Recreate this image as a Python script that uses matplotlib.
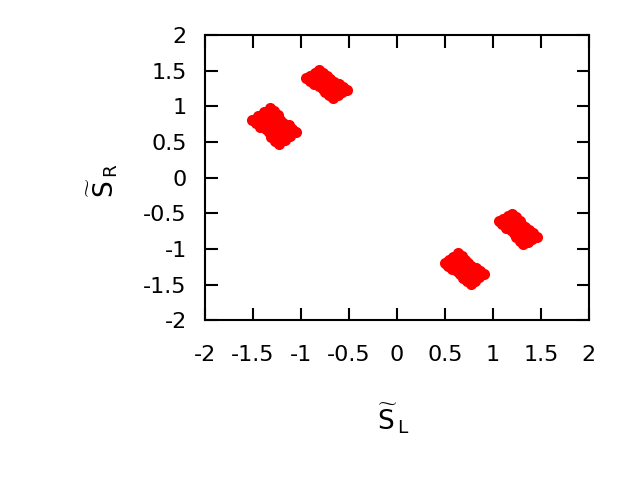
import matplotlib
matplotlib.use("Agg")
import matplotlib.pyplot as plt

plt.rcParams["font.family"] = ["DejaVu Sans"]
plt.rcParams["mathtext.fontset"] = "dejavusans"

# cluster near (-1.3, 0.75)
a_x = [-1.504, -1.442, -1.381, -1.319, -1.463, -1.402, -1.340, -1.278,
       -1.422, -1.361, -1.299, -1.238, -1.367, -1.323, -1.262, -1.218,
       -1.332, -1.288, -1.227, -1.183, -1.312, -1.251, -1.189, -1.128,
       -1.272, -1.210, -1.149, -1.087, -1.231, -1.169, -1.108, -1.046]
a_y = [0.815, 0.871, 0.927, 0.983, 0.763, 0.819, 0.875, 0.931,
       0.711, 0.767, 0.823, 0.879, 0.679, 0.719, 0.775, 0.815,
       0.635, 0.675, 0.731, 0.771, 0.571, 0.627, 0.683, 0.739,
       0.519, 0.575, 0.631, 0.687, 0.467, 0.523, 0.579, 0.635]

# cluster near (-0.75, 1.3)
b_x = [-0.947, -0.900, -0.853, -0.806, -0.904, -0.857, -0.811, -0.764,
       -0.862, -0.815, -0.768, -0.722, -0.809, -0.776, -0.729, -0.695,
       -0.773, -0.739, -0.692, -0.659, -0.747, -0.700, -0.653, -0.606,
       -0.704, -0.657, -0.611, -0.564, -0.662, -0.615, -0.568, -0.522]
b_y = [1.392, 1.431, 1.470, 1.508, 1.351, 1.390, 1.429, 1.467,
       1.310, 1.349, 1.388, 1.426, 1.283, 1.311, 1.349, 1.377,
       1.248, 1.276, 1.314, 1.342, 1.199, 1.238, 1.276, 1.315,
       1.158, 1.197, 1.235, 1.274, 1.117, 1.156, 1.194, 1.233]

# cluster near (0.7, -1.3)
c_x = [0.498, 0.543, 0.589, 0.634, 0.538, 0.584, 0.629, 0.674,
       0.579, 0.624, 0.669, 0.715, 0.629, 0.661, 0.707, 0.739,
       0.663, 0.696, 0.741, 0.773, 0.688, 0.733, 0.778, 0.824,
       0.728, 0.773, 0.818, 0.864, 0.768, 0.813, 0.859, 0.904]
c_y = [-1.202, -1.155, -1.108, -1.062, -1.246, -1.199, -1.152, -1.105,
       -1.289, -1.242, -1.196, -1.149, -1.316, -1.283, -1.236, -1.203,
       -1.354, -1.320, -1.273, -1.240, -1.407, -1.361, -1.314, -1.267,
       -1.451, -1.404, -1.357, -1.311, -1.494, -1.448, -1.401, -1.354]

# cluster near (1.25, -0.7)
d_x = [1.063, 1.110, 1.157, 1.203, 1.101, 1.148, 1.195, 1.241,
       1.139, 1.186, 1.232, 1.279, 1.187, 1.221, 1.268, 1.301,
       1.220, 1.253, 1.300, 1.334, 1.242, 1.289, 1.335, 1.382,
       1.280, 1.327, 1.373, 1.420, 1.318, 1.365, 1.411, 1.458]
d_y = [-0.607, -0.574, -0.541, -0.507, -0.656, -0.622, -0.589, -0.556,
       -0.704, -0.670, -0.637, -0.604, -0.739, -0.715, -0.682, -0.658,
       -0.780, -0.756, -0.723, -0.699, -0.834, -0.801, -0.768, -0.734,
       -0.883, -0.849, -0.816, -0.783, -0.931, -0.897, -0.864, -0.831]

ticks = [-2, -1.5, -1, -0.5, 0, 0.5, 1, 1.5, 2]
tick_labels = ["-2", "-1.5", "-1", "-0.5", "0", "0.5", "1", "1.5", "2"]

fig = plt.figure(figsize=(6.4, 4.8), dpi=100)
ax = fig.add_axes([0.320, 0.333, 0.600, 0.594])

for xs, ys in [(a_x, a_y), (b_x, b_y), (c_x, c_y), (d_x, d_y)]:
    ax.plot(xs, ys, "o", color="red", markersize=8, markeredgewidth=0)

ax.set_xlim(-2, 2)
ax.set_ylim(-2, 2)
ax.set_xticks(ticks)
ax.set_xticklabels(tick_labels)
ax.set_yticks(ticks)
ax.set_yticklabels(tick_labels)
ax.tick_params(direction="in", top=True, right=True, length=9, width=1.5,
               labelsize=16)
ax.tick_params(axis="x", pad=18)
ax.tick_params(axis="y", pad=13)
for s in ax.spines.values():
    s.set_linewidth(1.5)

ax.set_xlabel(r"$\widetilde{\mathrm{S}}_{\,\mathrm{L}}$", fontsize=19)
ax.set_ylabel(r"$\widetilde{\mathrm{S}}_{\,\mathrm{R}}$", fontsize=19)
ax.xaxis.set_label_coords(0.49, -0.285)
ax.yaxis.set_label_coords(-0.22, 0.49)

fig.savefig("out.png", dpi=100)
